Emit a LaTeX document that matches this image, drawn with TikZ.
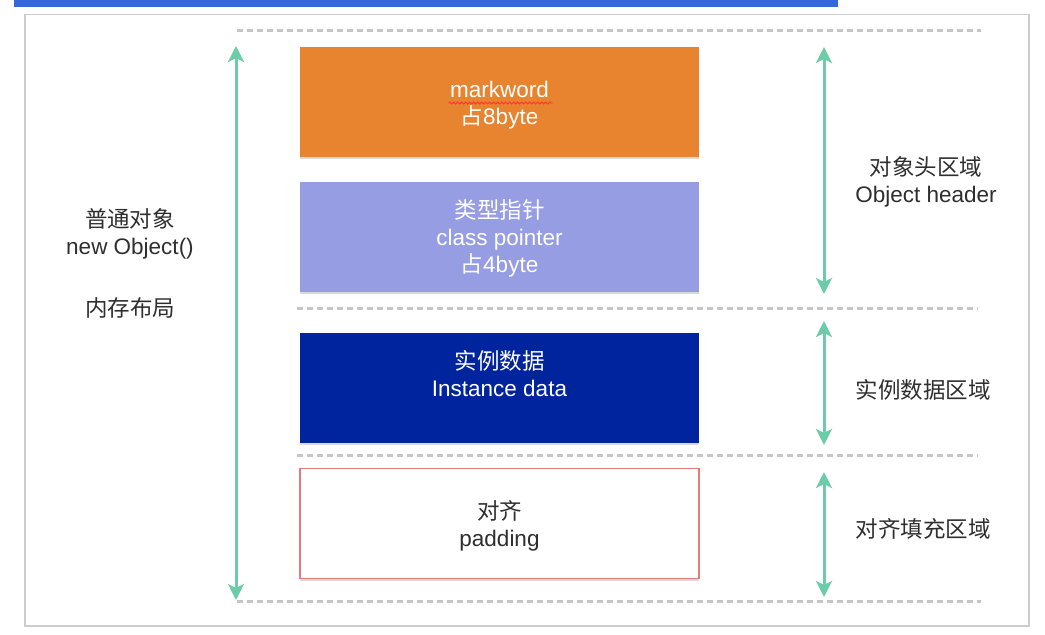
\documentclass[tikz,border=0pt]{standalone}
\usepackage{fontspec}
\setmainfont{Liberation Sans}
\newfontfamily\cjk{Noto Sans CJK SC}
\usetikzlibrary{arrows.meta,shadows,calc,decorations.pathmorphing}

\definecolor{barblue}{HTML}{3369D6}
\definecolor{framegray}{HTML}{CCCCCC}
\definecolor{dotgray}{HTML}{C6C6C6}
\definecolor{spangreen}{HTML}{6CCBA9}
\definecolor{markorange}{HTML}{E8832F}
\definecolor{pointerpurple}{HTML}{979DE2}
\definecolor{datablue}{HTML}{00249E}
\definecolor{padred}{HTML}{E07C7C}
\definecolor{labelgray}{HTML}{2E2E2E}

\newcommand{\zh}[1]{{\cjk #1}}

\tikzset{
  every node/.style={font=\fontsize{22.5}{27}\selectfont},
  block/.style={minimum width=399pt, minimum height=110pt, inner sep=0pt,
    drop shadow={opacity=0.3, shadow xshift=0pt, shadow yshift=-2pt}},
  boxtext/.style={align=center, inner sep=0pt},
  sidetext/.style={align=center, inner sep=0pt, text=labelgray},
  dotline/.style={draw=dotgray, line width=3pt, dash pattern=on 6pt off 4pt},
  span/.style={draw=spangreen, line width=3pt,
    {Stealth[length=16pt,width=16pt,inset=4pt]}-{Stealth[length=16pt,width=16pt,inset=4pt]}}
}

\begin{document}
\begin{tikzpicture}[x=1pt, y=-1pt]
  \useasboundingbox (0,0) rectangle (1045,635);

  % Page bar and frame
  \fill[barblue] (14,0) rectangle (838,7);
  \draw[framegray, line width=1.2pt] (25,14.5) rectangle (1029,626);

  % Dotted region borders
  \coordinate (top l) at (237,30);   \coordinate (top r) at (981,30);
  \coordinate (head l) at (297,308); \coordinate (head r) at (978,308);
  \coordinate (data l) at (297,455); \coordinate (data r) at (978,455);
  \coordinate (bot l) at (237,601);  \coordinate (bot r) at (981,601);
  \draw[dotline] (top l) -- (top r);
  \draw[dotline] (head l) -- (head r);
  \draw[dotline] (data l) -- (data r);
  \draw[dotline] (bot l) -- (bot r);

  % Memory blocks
  \node[block, fill=markorange] (mark) at (499.5,102) {};
  \node[boxtext, text=white] (mark text) at ([yshift=-3pt]mark.center)
    {markword\\\zh{占}8byte};
  \draw[red!80, line width=0.8pt, decorate, decoration={snake, segment length=4pt, amplitude=1pt}]
    ($(mark.center)+(-51,1)$) -- ($(mark.center)+(53,1)$);
  \node[block, fill=pointerpurple] (pointer) at (499.5,236.5) {};
  \node[boxtext, text=white] (pointer text) at ([yshift=-1.5pt]pointer.center)
    {\zh{类型指针}\\class pointer\\\zh{占}4byte};
  \node[block, fill=datablue] (data) at (499.5,387.5) {};
  \node[boxtext, text=white] (data text) at ([yshift=14pt]data.center)
    {\zh{实例数据}\\Instance data};
  \node[block, fill=white, draw=padred, line width=1.5pt] (pad) at (499.5,523.5) {};
  \node[boxtext, text=labelgray] (pad text) at ([yshift=-2.5pt]pad.center)
    {\zh{对齐}\\padding};

  % Whole object span (left)
  \coordinate (obj top) at (236,46);
  \coordinate (obj bot) at (236,600);
  \draw[span] (obj top) -- (obj bot);
  \node[sidetext] (obj label) at (130,234) {\zh{普通对象}\\new Object()};
  \node[sidetext] (layout label) at (130,308) {\zh{内存布局}};

  % Region spans (right)
  \coordinate (head top) at (824,47);  \coordinate (head bot) at (824,294);
  \coordinate (data top) at (824,321); \coordinate (data bot) at (824,445);
  \coordinate (pad top) at (824,472);  \coordinate (pad bot) at (824,597);
  \draw[span] (head top) -- (head bot);
  \draw[span] (data top) -- (data bot);
  \draw[span] (pad top) -- (pad bot);
  \node[sidetext] (head label) at (926,182) {\zh{对象头区域}\\Object header};
  \node[sidetext] (data label) at (923,390) {\zh{实例数据区域}};
  \node[sidetext] (pad label) at (923,529) {\zh{对齐填充区域}};
\end{tikzpicture}
\end{document}
